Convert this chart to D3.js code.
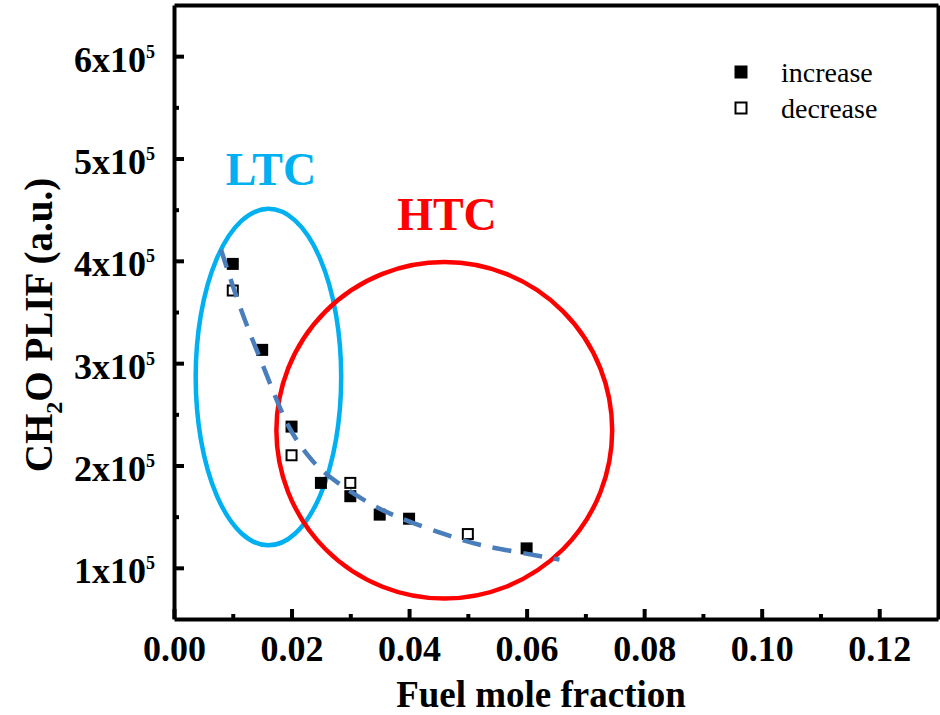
<!DOCTYPE html>
<html lang="en">
<head>
<meta charset="UTF-8">
<title>CH2O PLIF vs fuel mole fraction</title>
<script src="https://d3js.org/d3.v7.min.js"></script>
<style>
    body { margin: 0; background: #fff; }
    svg { display: block; font-family: "Liberation Serif", "Times New Roman", serif; }
    .axis path, .axis line { stroke: #000; stroke-width: 4px; }
    .axis text { fill: #000; font-weight: bold; font-family: "Liberation Serif", "Times New Roman", serif; }
</style>
</head>
<body>
<svg width="940" height="715"></svg>
<script>
// data
var incX = [0.01, 0.015, 0.02, 0.025, 0.03, 0.035, 0.04, 0.06];
var incY = [3.97e5, 3.13e5, 2.38e5, 1.83e5, 1.70e5, 1.52e5, 1.48e5, 1.19e5];
var decX = [0.01, 0.02, 0.03, 0.05];
var decY = [3.71e5, 2.10e5, 1.83e5, 1.33e5];

// dashed fit line
var fitX = [0.008, 0.010, 0.0126, 0.015, 0.0177, 0.020, 0.023, 0.025, 0.030, 0.035, 0.040, 0.0474, 0.052, 0.0588, 0.0656];
var fitY = [4.11e5, 3.75e5, 3.33e5, 3.00e5, 2.60e5, 2.31e5, 2.08e5, 1.95e5, 1.74e5, 1.57e5, 1.45e5, 1.30e5, 1.22e5, 1.15e5, 1.08e5];

// regions (centre x, centre y, radius x, radius y) in data units
var regionNames = ["LTC", "HTC"];
var regionCx = [0.01607, 0.04599];
var regionCy = [2.864e5, 2.344e5];
var regionRx = [0.01238, 0.02857];
var regionRy = [1.644e5, 1.644e5];

var xTicks = [0, 0.02, 0.04, 0.06, 0.08, 0.10, 0.12];
var xMinor = [0.01, 0.03, 0.05, 0.07, 0.09, 0.11];
var yTicks = [1e5, 2e5, 3e5, 4e5, 5e5, 6e5];
var yMinor = [1.5e5, 2.5e5, 3.5e5, 4.5e5, 5.5e5];

var svg = d3.select("svg");

var plotLeft = 174, plotRight = 938, plotTop = 5, plotBottom = 619;

var x = d3.scaleLinear().domain([0, 0.13]).range([plotLeft, plotRight]);
var y = d3.scaleLinear().domain([0.5e5, 6.5e5]).range([plotBottom, plotTop]);

// regions first so everything else sits on top
var regionColor = ["#00b0f0", "#ff0000"];
svg.append("g").selectAll("ellipse")
    .data(regionNames)
    .enter().append("ellipse")
    .attr("cx", function(d, i) { return x(regionCx[i]); })
    .attr("cy", function(d, i) { return y(regionCy[i]); })
    .attr("rx", function(d, i) { return x(regionRx[i]) - x(0); })
    .attr("ry", function(d, i) { return y(0) - y(regionRy[i]); })
    .attr("fill", "none")
    .attr("stroke", function(d, i) { return regionColor[i]; })
    .attr("stroke-width", 4.5);

// region labels
svg.append("text")
    .attr("x", 271).attr("y", 185)
    .attr("text-anchor", "middle")
    .style("font-size", "46px").style("font-weight", "bold")
    .attr("fill", regionColor[0])
    .text("LTC");
svg.append("text")
    .attr("x", 447).attr("y", 230)
    .attr("text-anchor", "middle")
    .style("font-size", "46px").style("font-weight", "bold")
    .attr("fill", regionColor[1])
    .text("HTC");

// axes
var xAxis = svg.append("g").attr("class", "axis")
    .attr("transform", "translate(0," + plotBottom + ")")
    .call(d3.axisBottom(x).tickValues(xTicks).tickSizeInner(-10).tickSizeOuter(0)
        .tickPadding(16).tickFormat(d3.format(".2f")));
svg.append("g").attr("class", "axis")
    .attr("transform", "translate(0," + plotBottom + ")")
    .call(d3.axisBottom(x).tickValues(xMinor).tickSizeInner(-5).tickSizeOuter(0).tickFormat(""))
    .select(".domain").remove();
xAxis.selectAll("text").style("font-size", "36px");

var yAxis = svg.append("g").attr("class", "axis")
    .attr("transform", "translate(" + plotLeft + ",0)")
    .call(d3.axisLeft(y).tickValues(yTicks).tickSizeInner(-10).tickSizeOuter(0)
        .tickPadding(19).tickFormat(""));
svg.append("g").attr("class", "axis")
    .attr("transform", "translate(" + plotLeft + ",0)")
    .call(d3.axisLeft(y).tickValues(yMinor).tickSizeInner(-5).tickSizeOuter(0).tickFormat(""))
    .select(".domain").remove();

yAxis.selectAll(".tick text")
    .attr("dy", 15)
    .style("font-size", "36px")
    .each(function(d) {
        var t = d3.select(this);
        t.append("tspan").text(Math.round(d / 1e5) + "x10");
        t.append("tspan").attr("dy", -14).style("font-size", "18px").text("5");
    });

// top and right frame
svg.append("g").attr("class", "axis")
    .attr("transform", "translate(0," + plotTop + ")")
    .call(d3.axisTop(x).tickValues([]).tickSizeOuter(0));
svg.append("g").attr("class", "axis")
    .attr("transform", "translate(" + plotRight + ",0)")
    .call(d3.axisRight(y).tickValues([]).tickSizeOuter(0));

// axis titles
svg.append("text")
    .attr("x", 541).attr("y", 707)
    .attr("text-anchor", "middle")
    .style("font-size", "37px").style("font-weight", "bold")
    .text("Fuel mole fraction");

var yTitle = svg.append("text")
    .attr("transform", "translate(52,325) rotate(-90)")
    .attr("text-anchor", "middle")
    .style("font-size", "39px").style("font-weight", "bold");
yTitle.append("tspan").text("CH");
yTitle.append("tspan").attr("dy", 10).style("font-size", "24px").text("2");
yTitle.append("tspan").attr("dy", -10).text("O PLIF (a.u.)");

// markers
var msize = 12;
svg.append("g").selectAll("rect")
    .data(incX)
    .enter().append("rect")
    .attr("x", function(d) { return x(d) - msize / 2; })
    .attr("y", function(d, i) { return y(incY[i]) - msize / 2; })
    .attr("width", msize).attr("height", msize)
    .attr("fill", "#000");

svg.append("g").selectAll("rect")
    .data(decX)
    .enter().append("rect")
    .attr("x", function(d) { return x(d) - (msize - 2) / 2; })
    .attr("y", function(d, i) { return y(decY[i]) - (msize - 2) / 2; })
    .attr("width", msize - 2).attr("height", msize - 2)
    .attr("fill", "#fff").attr("stroke", "#000").attr("stroke-width", 2);

// dashed fit
var line = d3.line()
    .x(function(d) { return x(d); })
    .y(function(d, i) { return y(fitY[i]); })
    .curve(d3.curveBasis);
svg.append("path")
    .datum(fitX)
    .attr("d", line)
    .attr("fill", "none")
    .attr("stroke", "#4a7ebb")
    .attr("stroke-width", 4.5)
    .attr("stroke-dasharray", "19,12");

// legend
var legendLabels = ["increase", "decrease"];
var legend = svg.append("g").selectAll("g")
    .data(legendLabels)
    .enter().append("g")
    .attr("transform", function(d, i) { return "translate(741," + (72 + i * 36) + ")"; });
legend.append("rect")
    .attr("x", function(d, i) { return i ? -5.5 : -6.5; })
    .attr("y", function(d, i) { return i ? -5.5 : -6.5; })
    .attr("width", function(d, i) { return i ? 11 : 13; })
    .attr("height", function(d, i) { return i ? 11 : 13; })
    .attr("fill", function(d, i) { return i ? "#fff" : "#000"; })
    .attr("stroke", function(d, i) { return i ? "#000" : "none"; })
    .attr("stroke-width", 2);
legend.append("text")
    .attr("x", 40).attr("y", 10)
    .style("font-size", "28px")
    .text(function(d) { return d; });
</script>
</body>
</html>
